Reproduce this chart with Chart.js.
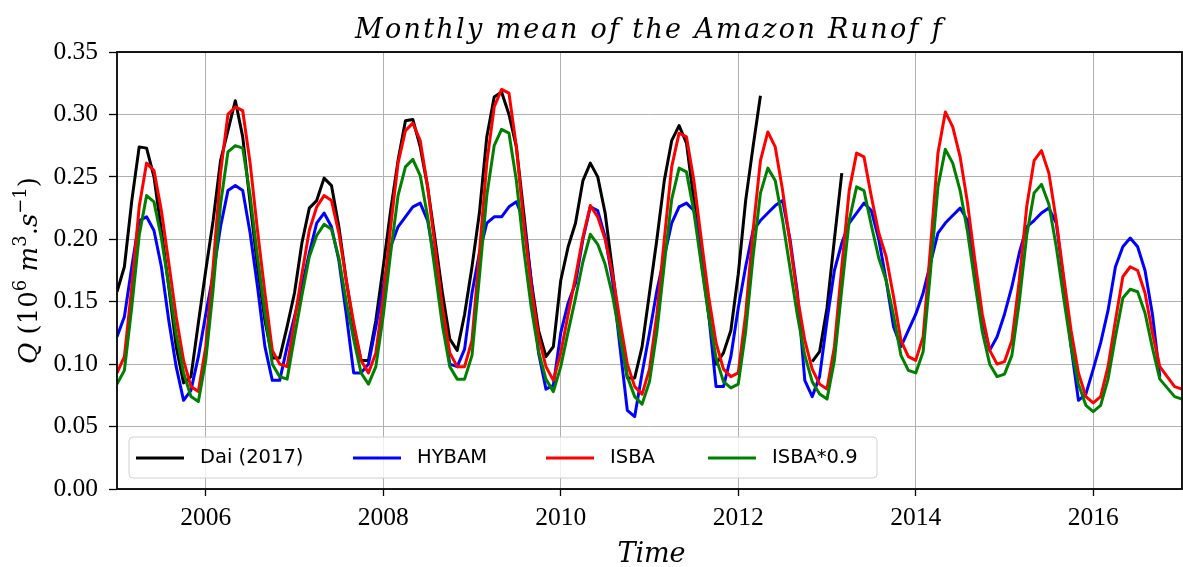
<!DOCTYPE html>
<html>
<head>
<meta charset="utf-8">
<script src="https://cdn.jsdelivr.net/npm/chart.js@4.4.1/dist/chart.umd.min.js"></script>
<style>
    html, body { margin: 0; padding: 0; background: #fff; }
    canvas { display: block; }
</style>
</head>
<body>
<canvas id="runoff-chart" width="1183" height="567"></canvas>
<script>
// monthly series, first value = Jan 2005
const startYear = 2005;
const yearTicks = [2006, 2008, 2010, 2012, 2014, 2016];
const seriesNames = ['Dai (2017)', 'HYBAM', 'ISBA', 'ISBA*0.9'];

const dai = [
    0.158, 0.178, 0.231, 0.274, 0.273, 0.250, 0.207, 0.162, 0.114, 0.085, 0.090, 0.133,
    0.175, 0.215, 0.263, 0.287, 0.311, 0.282, 0.229, 0.178, 0.135, 0.105, 0.105, 0.130,
    0.157, 0.197, 0.225, 0.231, 0.249, 0.243, 0.210, 0.167, 0.130, 0.103, 0.103, 0.135,
    0.178, 0.223, 0.263, 0.295, 0.296, 0.274, 0.242, 0.200, 0.157, 0.120, 0.111, 0.140,
    0.178, 0.221, 0.282, 0.314, 0.318, 0.300, 0.274, 0.221, 0.167, 0.127, 0.106, 0.114,
    0.167, 0.194, 0.213, 0.247, 0.261, 0.250, 0.221, 0.175, 0.127, 0.089, 0.089, 0.114,
    0.157, 0.200, 0.247, 0.279, 0.291, 0.277, 0.231, 0.183, 0.140, 0.100, 0.109, 0.127,
    0.172, 0.231, 0.274, 0.315, null, null, null, null, null, null, 0.102, 0.110,
    0.145, 0.200, 0.253
];

const hybam = [
    0.122, 0.138, 0.178, 0.215, 0.218, 0.207, 0.178, 0.135, 0.098, 0.071, 0.079, 0.106,
    0.140, 0.172, 0.210, 0.239, 0.243, 0.239, 0.205, 0.162, 0.114, 0.087, 0.087, 0.114,
    0.138, 0.162, 0.189, 0.213, 0.221, 0.210, 0.183, 0.140, 0.093, 0.093, 0.100, 0.130,
    0.162, 0.194, 0.210, 0.218, 0.226, 0.229, 0.215, 0.181, 0.140, 0.100, 0.098, 0.112,
    0.157, 0.189, 0.213, 0.218, 0.218, 0.226, 0.230, 0.215, 0.167, 0.109, 0.080, 0.083,
    0.125, 0.149, 0.165, 0.200, 0.226, 0.223, 0.202, 0.167, 0.114, 0.063, 0.058, 0.093,
    0.125, 0.159, 0.186, 0.213, 0.226, 0.229, 0.223, 0.194, 0.140, 0.082, 0.082, 0.106,
    0.145, 0.178, 0.207, 0.215, 0.221, 0.227, 0.231, 0.200, 0.157, 0.087, 0.074, 0.090,
    0.135, 0.175, 0.197, 0.213, 0.221, 0.229, 0.223, 0.200, 0.167, 0.130, 0.114, 0.127,
    0.140, 0.157, 0.181, 0.205, 0.213, 0.219, 0.225, 0.215, 0.178, 0.135, 0.111, 0.122,
    0.140, 0.162, 0.189, 0.210, 0.215, 0.221, 0.225, 0.213, 0.167, 0.114, 0.071, 0.076,
    0.096, 0.117, 0.143, 0.178, 0.194, 0.201, 0.194, 0.175, 0.140, 0.090
];

const isba = [
    0.093, 0.106, 0.162, 0.226, 0.261, 0.255, 0.223, 0.181, 0.138, 0.103, 0.082, 0.078,
    0.114, 0.178, 0.253, 0.300, 0.306, 0.303, 0.261, 0.207, 0.157, 0.111, 0.100, 0.098,
    0.135, 0.172, 0.207, 0.226, 0.235, 0.231, 0.205, 0.167, 0.133, 0.103, 0.093, 0.109,
    0.154, 0.210, 0.261, 0.287, 0.293, 0.279, 0.242, 0.194, 0.146, 0.109, 0.098, 0.098,
    0.119, 0.189, 0.261, 0.306, 0.320, 0.317, 0.274, 0.213, 0.162, 0.122, 0.098, 0.087,
    0.109, 0.140, 0.170, 0.202, 0.227, 0.218, 0.200, 0.172, 0.135, 0.100, 0.082, 0.076,
    0.096, 0.140, 0.200, 0.258, 0.285, 0.282, 0.247, 0.200, 0.154, 0.117, 0.096, 0.090,
    0.093, 0.140, 0.207, 0.263, 0.286, 0.274, 0.239, 0.197, 0.154, 0.119, 0.096, 0.084,
    0.080, 0.114, 0.178, 0.239, 0.269, 0.266, 0.234, 0.205, 0.186, 0.154, 0.119, 0.106,
    0.103, 0.122, 0.194, 0.269, 0.302, 0.290, 0.266, 0.229, 0.183, 0.140, 0.111, 0.100,
    0.102, 0.119, 0.167, 0.226, 0.263, 0.271, 0.253, 0.215, 0.170, 0.127, 0.093, 0.074,
    0.069, 0.074, 0.098, 0.135, 0.170, 0.178, 0.175, 0.157, 0.125, 0.098, 0.090, 0.082,
    0.080
];

const isbaScaled = [
    0.084, 0.095, 0.146, 0.203, 0.235, 0.230, 0.201, 0.163, 0.124, 0.093, 0.074, 0.070,
    0.103, 0.160, 0.228, 0.270, 0.275, 0.273, 0.235, 0.186, 0.141, 0.100, 0.090, 0.088,
    0.122, 0.155, 0.186, 0.203, 0.212, 0.208, 0.185, 0.150, 0.120, 0.093, 0.084, 0.098,
    0.139, 0.189, 0.235, 0.258, 0.264, 0.251, 0.218, 0.175, 0.131, 0.098, 0.088, 0.088,
    0.107, 0.170, 0.235, 0.275, 0.288, 0.285, 0.247, 0.192, 0.146, 0.110, 0.088, 0.078,
    0.098, 0.126, 0.153, 0.182, 0.204, 0.196, 0.180, 0.155, 0.122, 0.090, 0.074, 0.068,
    0.086, 0.126, 0.180, 0.232, 0.257, 0.254, 0.222, 0.180, 0.139, 0.105, 0.086, 0.081,
    0.084, 0.126, 0.186, 0.237, 0.257, 0.247, 0.215, 0.177, 0.139, 0.107, 0.086, 0.076,
    0.072, 0.103, 0.160, 0.215, 0.242, 0.239, 0.211, 0.185, 0.167, 0.139, 0.107, 0.095,
    0.093, 0.110, 0.175, 0.242, 0.272, 0.261, 0.239, 0.206, 0.165, 0.126, 0.100, 0.090,
    0.092, 0.107, 0.150, 0.203, 0.237, 0.244, 0.228, 0.194, 0.153, 0.114, 0.084, 0.067,
    0.062, 0.067, 0.088, 0.122, 0.153, 0.160, 0.158, 0.141, 0.113, 0.088, 0.081, 0.074,
    0.072
];

const toPoints = values => values.map((v, i) => ({ x: startYear + i / 12, y: v }));

const SERIF = '"Liberation Serif", "DejaVu Serif", serif';
const MATH = '"DejaVu Serif", serif';
const SANS = '"DejaVu Sans", sans-serif';

// text drawn with spacing stretched to a given width (math-mode look)
function drawSpaced(ctx, text, font, cx, y, target) {
    ctx.save();
    ctx.font = font;
    ctx.letterSpacing = '0px';
    const w0 = ctx.measureText(text).width;
    const gap = (target - w0) / text.length;
    ctx.letterSpacing = gap + 'px';
    ctx.fillStyle = '#000';
    ctx.textAlign = 'left';
    ctx.textBaseline = 'alphabetic';
    ctx.fillText(text, cx - target / 2, y);
    ctx.restore();
}

function drawRich(ctx, parts) {
    let total = 0;
    parts.forEach(p => { ctx.font = p.font; p.w = ctx.measureText(p.t).width; total += p.w; });
    let x = -total / 2;
    parts.forEach(p => {
        ctx.font = p.font;
        ctx.fillText(p.t, x, -(p.rise || 0));
        x += p.w;
    });
}

const decorations = {
    id: 'decorations',
    afterDatasetsDraw(chart) {
        const ctx = chart.ctx;
        const a = chart.chartArea;

        // legend box
        const bx = a.left + 12, by = a.bottom - 52, bw = 748, bh = 41;
        ctx.save();
        ctx.beginPath();
        ctx.roundRect(bx, by, bw, bh, 4);
        ctx.fillStyle = 'rgba(255,255,255,0.8)';
        ctx.fill();
        ctx.strokeStyle = '#d0d0d0';
        ctx.lineWidth = 1;
        ctx.stroke();
        const cols = [19, 236, 429, 591];
        const cy = by + 21;
        ctx.font = '19.5px ' + SANS;
        ctx.textBaseline = 'middle';
        ctx.textAlign = 'left';
        chart.data.datasets.forEach((ds, i) => {
            const x0 = a.left + cols[i];
            ctx.beginPath();
            ctx.moveTo(x0, cy);
            ctx.lineTo(x0 + 48, cy);
            ctx.strokeStyle = ds.borderColor;
            ctx.lineWidth = 2.8;
            ctx.stroke();
            ctx.fillStyle = '#000';
            ctx.fillText(ds.label, x0 + 64, cy);
        });
        ctx.restore();

        // axes frame
        ctx.save();
        ctx.strokeStyle = '#000';
        ctx.lineWidth = 1.8;
        ctx.strokeRect(a.left, a.top, a.right - a.left, a.bottom - a.top);
        ctx.restore();
    },
    afterDraw(chart) {
        const ctx = chart.ctx;
        const a = chart.chartArea;
        const mid = (a.left + a.right) / 2;
        drawSpaced(ctx, 'Monthly mean of the Amazon Runof f', 'italic 27px ' + MATH, mid, 38, 589);
        drawSpaced(ctx, 'Time', 'italic 27px ' + MATH, mid + 2, 562, 68);

        const main = '26px ' + MATH, ital = 'italic 26px ' + MATH, sup = '18px ' + MATH;
        ctx.save();
        ctx.translate(37, (a.top + a.bottom) / 2);
        ctx.rotate(-Math.PI / 2);
        ctx.fillStyle = '#000';
        ctx.textBaseline = 'alphabetic';
        ctx.textAlign = 'left';
        drawRich(ctx, [
            { t: 'Q', font: ital },
            { t: ' (10', font: main },
            { t: '6', font: sup, rise: 11 },
            { t: ' ', font: main },
            { t: 'm', font: ital },
            { t: '3', font: sup, rise: 11 },
            { t: '.', font: main },
            { t: 's', font: ital },
            { t: '\u22121', font: sup, rise: 11 },
            { t: ')', font: main }
        ]);
        ctx.restore();
    }
};

const ctx = document.getElementById('runoff-chart').getContext('2d');
new Chart(ctx, {
    type: 'line',
    data: {
        datasets: [
            { label: seriesNames[0], data: toPoints(dai), borderColor: '#000000', order: 4 },
            { label: seriesNames[1], data: toPoints(hybam), borderColor: '#0000ff', order: 3 },
            { label: seriesNames[2], data: toPoints(isba), borderColor: '#ff0000', order: 2 },
            { label: seriesNames[3], data: toPoints(isbaScaled), borderColor: '#008000', order: 1 }
        ]
    },
    options: {
        responsive: false,
        animation: false,
        spanGaps: false,
        layout: { padding: { left: 0, right: 1, top: 52, bottom: 0 } },
        elements: {
            point: { radius: 0, hoverRadius: 0 },
            line: { borderWidth: 3, tension: 0, fill: false, borderJoinStyle: 'round' }
        },
        plugins: {
            legend: { display: false },
            tooltip: { enabled: false },
            title: { display: false }
        },
        scales: {
            x: {
                type: 'linear',
                min: 2005,
                max: 2017,
                afterBuildTicks: scale => { scale.ticks = yearTicks.map(v => ({ value: v })); },
                afterFit: scale => { scale.height = 78; },
                border: { display: false },
                grid: { color: '#b0b0b0', lineWidth: 1, tickColor: '#000', tickLength: 7, tickWidth: 1.3 },
                ticks: {
                    color: '#000',
                    padding: 7,
                    maxRotation: 0,
                    font: { family: SERIF, size: 25.5 },
                    callback: v => String(v)
                }
            },
            y: {
                min: 0,
                max: 0.35,
                afterFit: scale => { scale.width = 117; },
                border: { display: false },
                grid: { color: '#b0b0b0', lineWidth: 1, tickColor: '#000', tickLength: 8, tickWidth: 1.3 },
                ticks: {
                    stepSize: 0.05,
                    color: '#000',
                    padding: 11,
                    font: { family: SERIF, size: 25.5 },
                    callback: v => v.toFixed(2)
                }
            }
        }
    },
    plugins: [decorations]
});
</script>
</body>
</html>
